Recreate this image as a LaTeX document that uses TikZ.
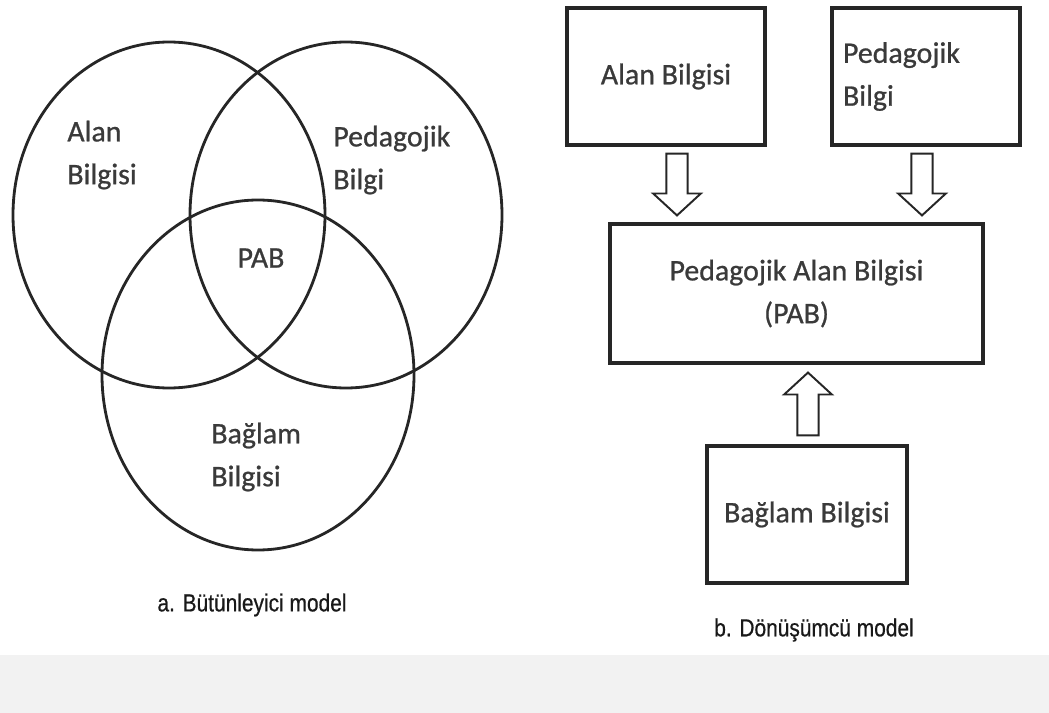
\documentclass[tikz,border=0pt]{standalone}
\usepackage{fontspec}
\setmainfont{Carlito}
\newfontfamily\boxfont{Carlito}[FakeBold=0.8]
\newfontfamily\capfont{Liberation Sans}[FakeStretch=0.85, FakeBold=0.6]
\usetikzlibrary{calc}
\definecolor{inkgray}{HTML}{262626}
\definecolor{txtgray}{HTML}{3A3A3A}
\definecolor{bandgray}{HTML}{F2F2F2}
\newcommand{\labelfont}{\boxfont\fontsize{17}{24.4}\selectfont}
\newcommand{\hollowarrow}[2]{%
  \draw[arrowline] let \p1=(#1), \p2=(#2), \p3=($(#2)!12.5pt!(#1)$) in
    (\x1-6pt,\y1) -- (\x1-6pt,\y3) -- (\x1-13.6pt,\y3) -- (\x2,\y2)
    -- (\x1+13.6pt,\y3) -- (\x1+6pt,\y3) -- (\x1+6pt,\y1) -- cycle;}

\begin{document}
\begin{tikzpicture}[x=0.02cm,y=-0.02cm,
    vennline/.style={draw=inkgray, line width=1.6pt},
    lbl/.style={text=txtgray, font=\labelfont, inner sep=0pt, align=left},
    box/.style={draw=inkgray, line width=1.8pt, text=txtgray, font=\labelfont},
    arrowline/.style={draw=inkgray, line width=1.1pt, fill=white, line join=miter},
    caption/.style={text=black!90, font=\capfont\fontsize{14}{16}\selectfont, inner sep=0pt}]
        \useasboundingbox (0,0) rectangle (1049,713);
        \fill[bandgray] (0,655) rectangle (1049,713);

        \draw[vennline] (169,215) ellipse [x radius=156, y radius=173];
        \draw[vennline] (346,215) ellipse [x radius=156, y radius=173];
        \draw[vennline] (258,375) ellipse [x radius=156, y radius=175];

        \node[lbl, anchor=west] (alanlbl) at (67,155) {Alan\\Bilgisi};
        \node[lbl, anchor=west] (pedlbl) at (333,160) {Pedagojik\\Bilgi};
        \node[lbl] (pablbl) at (261,258) {PAB};
        \node[lbl, anchor=west] (baglamlbl) at (211,457) {Ba\u{g}lam\\Bilgisi};
        \node[caption] (capa) at (252,605) {a. Bütünleyici model};

        \node[box, minimum width=3.96cm, minimum height=2.74cm] (alanbox) at (666,76.5) {Alan Bilgisi};
        \node[box, minimum width=3.76cm, minimum height=2.74cm, text width=3.32cm, align=left] (pedbox) at (926,76.5) {Pedagojik\\Bilgi};
        \node[box, minimum width=7.46cm, minimum height=2.78cm, align=center] (pabbox) at (796.5,293.5) {Pedagojik Alan Bilgisi\\(PAB)};
        \node[box, minimum width=4cm, minimum height=2.74cm] (baglambox) at (807,514.5) {Ba\u{g}lam Bilgisi};
        \node[caption] (capb) at (814,630) {b. Dönüşümcü model};

        \coordinate (a1s) at ($(alanbox.south)+(11,7)$);
        \coordinate (a1e) at ($(alanbox.south |- pabbox.north)+(11,-7)$);
        \coordinate (a2s) at ($(pedbox.south)+(-4,7)$);
        \coordinate (a2e) at ($(pedbox.south |- pabbox.north)+(-4,-7)$);
        \coordinate (a3s) at ($(baglambox.north)+(1,-9)$);
        \coordinate (a3e) at ($(baglambox.north |- pabbox.south)+(1,8)$);
        \hollowarrow{a1s}{a1e}
        \hollowarrow{a2s}{a2e}
        \hollowarrow{a3s}{a3e}
\end{tikzpicture}
\end{document}
